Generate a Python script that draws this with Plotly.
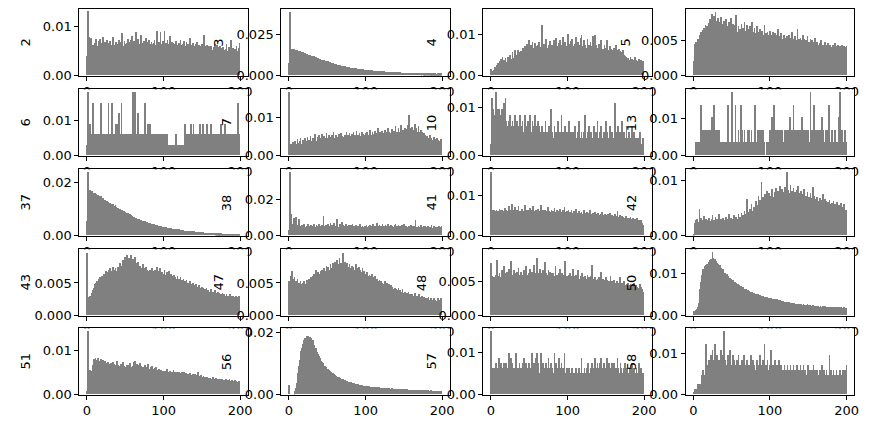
import numpy as np
import plotly.graph_objects as go

# ---------------- data (bar heights, units of 1e-4) ----------------
labels = ["2", "3", "4", "5", "6", "7", "10", "13", "37", "38",
          "41", "42", "43", "47", "48", "50", "51", "56", "57", "58"]

h2 = [40,129,45,77,45,75,15,44,62,58,66,54,73,60,50,70,63,74,58,66,
      55,78,62,68,60,50,72,65,58,63,70,55,61,58,78,62,52,60,68,57,
      64,59,72,55,68,62,85,60,58,70,63,52,66,74,59,68,61,72,57,80,
      62,70,58,66,88,60,55,73,64,58,82,61,66,57,70,63,59,76,60,68,
      56,72,63,60,68,58,64,66,71,55,62,89,60,58,67,62,88,59,64,70,
      55,89,62,66,59,72,64,58,80,61,54,68,60,66,57,63,70,56,62,59,
      66,58,72,50,61,64,55,70,60,52,68,57,63,59,75,55,62,58,66,50,
      60,56,64,52,68,58,62,55,60,50,64,57,66,82,60,54,58,62,53,59,
      48,56,60,8,52,58,47,64,55,50,62,48,57,53,60,46,55,50,58,52,
      47,54,63,50,45,58,52,48,71,50,44,56,49,53,46,60,42,50,55,66]

h3 = [75,385,165,160,162,155,158,150,154,148,152,145,150,144,146,140,143,138,141,136,
      132,135,128,130,126,124,127,120,122,118,119,115,113,116,110,108,111,104,106,100,
      98,101,95,96,92,90,93,87,88,85,83,86,80,79,81,76,74,75,71,70,
      68,69,66,64,65,62,60,61,58,57,58,55,54,55,52,51,52,49,48,49,
      47,46,47,44,43,44,42,41,42,40,39,40,38,37,38,36,35,36,34,34,
      35,33,32,33,31,30,31,30,29,30,28,27,28,27,26,27,25,25,26,24,
      24,25,23,23,24,22,22,23,21,21,22,20,20,21,19,19,20,19,18,19,
      18,18,19,17,17,18,17,16,17,16,16,17,15,15,16,15,15,14,15,14,
      15,14,14,15,13,14,14,13,14,13,13,14,13,12,13,13,12,13,12,12,
      13,12,12,13,12,11,12,12,11,12,11,12,11,11,12,11,11,12,11,13]

h4 = [15,9,8,10,12,20,14,25,18,30,22,35,28,40,24,45,30,38,26,42,
      32,28,44,36,25,48,40,33,55,42,38,60,45,50,36,62,48,55,40,58,
      52,46,65,58,70,50,62,75,55,68,85,60,72,58,80,66,52,78,64,70,
      58,74,62,80,55,68,72,122,60,76,64,70,88,58,66,74,60,82,68,56,
      72,62,85,66,58,90,70,64,78,55,86,68,72,60,92,66,58,80,70,64,
      100,62,75,68,82,58,88,70,64,76,60,92,68,55,80,72,66,90,98,62,
      70,84,60,74,66,58,88,64,72,56,80,62,70,94,60,68,98,74,58,66,
      62,76,56,70,84,60,64,52,72,58,66,85,54,62,50,70,58,64,48,60,
      56,66,50,72,54,60,46,64,52,58,44,56,62,40,50,46,36,44,30,42,
      38,28,45,34,40,26,38,32,44,30,36,24,34,40,28,32,38,26,34,30]

h5 = [20,45,44,48,46,52,50,58,55,62,60,65,58,68,64,72,66,70,62,75,
      68,80,72,88,70,76,85,74,90,68,78,82,66,76,70,84,64,74,68,78,
      62,72,80,66,70,58,76,64,82,60,68,74,58,72,64,86,62,56,70,60,
      66,58,74,62,68,54,76,60,64,72,56,66,60,70,54,64,76,58,62,68,
      56,60,70,52,62,58,66,50,60,64,54,58,72,52,60,56,62,50,58,64,
      52,58,48,62,56,50,60,46,58,54,66,50,56,48,60,52,46,58,50,54,
      48,56,52,44,58,50,46,54,62,48,52,44,56,50,46,66,48,52,44,54,
      50,44,58,46,52,42,50,48,56,42,48,46,52,40,50,44,48,38,54,44,
      42,48,36,44,46,40,50,38,44,42,36,48,40,44,38,46,42,36,44,40,
      38,44,40,36,46,38,42,34,44,40,36,42,38,44,34,40,42,38,40,42]

h6 = [30,180,60,60,90,60,60,60,150,60,60,60,30,60,60,60,60,60,150,60,
      60,60,0,60,60,30,60,60,150,60,60,60,60,150,60,60,60,90,90,90,
      60,60,120,60,60,150,60,60,30,60,60,60,0,60,60,60,30,60,60,60,
      180,180,180,180,60,60,60,120,60,60,60,60,60,30,60,60,150,60,60,90,
      60,90,60,90,60,60,30,60,60,60,60,30,60,60,60,60,60,30,60,60,
      60,60,30,60,60,0,0,30,0,30,30,30,30,30,30,30,60,30,30,30,
      30,30,30,30,30,0,30,30,90,60,60,30,60,60,30,60,90,60,30,90,
      60,60,30,60,60,30,60,90,60,60,30,90,60,30,60,60,60,90,60,30,
      60,60,90,60,30,60,60,30,60,60,30,60,60,60,60,90,60,60,30,60,
      90,60,60,30,60,60,60,30,60,60,60,30,60,60,30,60,60,150,60,60]

h7 = [164,22,25,30,22,35,28,24,38,30,26,42,32,28,36,45,30,26,40,33,
      28,44,36,30,48,34,40,32,50,38,30,46,36,42,55,38,32,48,40,52,
      36,44,38,56,42,34,50,40,46,58,38,44,52,36,48,42,54,40,60,46,
      38,52,44,48,40,56,46,42,58,50,44,10,48,54,40,62,46,52,44,58,
      50,42,56,48,60,44,52,46,64,40,54,48,58,50,44,62,48,56,52,46,
      58,50,62,46,54,48,66,52,44,60,56,50,64,48,58,52,70,46,56,60,
      50,64,54,58,48,66,52,60,56,72,50,62,58,54,68,52,60,64,56,76,
      58,62,54,70,60,56,78,64,58,66,60,72,56,68,62,80,58,104,64,70,
      60,74,56,66,82,58,70,62,54,76,60,48,66,56,62,50,58,44,54,42,
      50,40,46,38,52,36,44,40,34,48,38,42,30,44,36,40,32,38,42,36]

h10 = [24,120,72,96,84,60,132,72,96,48,96,72,60,84,96,36,72,108,60,120,
       72,60,48,72,48,84,60,48,72,36,60,84,48,60,72,12,60,48,84,48,
       60,72,48,36,84,48,60,24,72,48,60,84,36,48,72,60,24,84,48,60,
       48,72,36,60,24,48,36,60,24,48,36,72,24,48,36,24,60,36,96,36,
       48,24,36,60,24,48,36,72,24,36,48,24,84,36,48,24,36,60,24,48,
       36,24,72,24,48,36,12,48,36,24,60,36,24,48,36,72,24,36,48,24,
       36,48,24,84,36,24,48,36,60,24,36,48,24,36,60,36,24,48,36,72,
       24,36,48,24,60,36,24,48,36,24,72,36,48,24,36,60,24,36,48,36,
       24,36,108,48,24,36,60,24,48,36,24,72,36,24,48,36,24,60,36,24,
       48,24,36,24,60,36,24,48,24,36,24,12,36,24,48,24,12,24,36,12]

h13 = [0,0,0,35,35,0,35,35,0,138,35,69,0,69,35,0,69,35,69,69,
       69,0,69,104,69,69,138,69,0,69,69,35,69,69,0,35,35,0,35,35,
       0,35,35,0,138,35,0,35,35,0,173,35,0,35,138,35,0,35,69,35,
       0,138,35,69,35,0,69,35,35,0,69,35,69,0,35,69,35,0,35,69,
       138,35,0,69,69,35,69,69,0,69,69,0,35,0,0,35,0,0,35,69,
       35,69,104,35,138,0,35,69,35,0,69,35,69,0,35,69,35,35,0,69,
       69,0,35,69,35,104,69,69,35,69,138,69,69,0,69,69,35,69,69,0,
       69,104,69,35,69,0,69,69,35,69,0,35,173,35,69,0,35,138,35,69,
       35,0,69,35,69,0,35,104,35,69,0,35,69,35,0,69,138,35,0,35,
       69,35,0,35,69,35,0,35,35,104,0,173,35,69,0,35,35,69,35,0]

h37 = [55,240,168,165,170,160,166,158,162,155,160,152,156,150,153,146,150,144,147,140,
       136,140,133,135,130,128,131,125,127,121,123,118,120,115,117,112,110,113,106,104,
       101,103,98,99,95,93,96,90,91,87,88,85,83,86,80,78,79,75,74,72,
       70,71,68,66,67,63,62,63,60,58,59,56,55,56,53,52,53,50,49,48,
       48,46,47,44,43,44,42,41,41,39,38,39,37,36,36,35,34,34,33,32,
       32,31,31,30,29,29,28,28,27,26,26,25,25,24,24,23,23,22,22,21,
       22,21,20,20,19,19,19,18,18,17,17,17,16,16,16,15,15,15,14,14,
       15,14,13,13,13,12,12,12,12,11,11,11,11,10,10,10,10,9,10,9,
       9,9,8,9,8,8,8,8,7,8,7,7,7,7,6,7,6,6,6,6,
       6,6,5,6,5,5,5,5,5,5,4,5,4,4,4,4,4,4,4,3]

h38 = [28,350,205,118,62,45,95,52,40,100,48,38,58,92,44,50,36,55,48,42,
       60,45,38,52,48,65,42,50,36,58,46,54,40,62,48,44,56,38,50,64,
       46,52,40,58,44,108,50,42,56,48,38,62,46,52,70,44,58,48,40,66,
       50,44,58,92,46,40,54,62,48,72,44,56,50,38,60,46,52,40,58,48,
       42,56,48,62,40,52,44,58,38,50,46,54,42,60,48,36,52,44,24,50,
       40,56,46,38,52,44,58,40,50,46,62,42,54,48,38,66,44,52,58,42,
       50,46,62,40,54,48,58,44,52,64,42,50,46,58,40,52,48,44,56,60,
       42,50,46,58,44,52,40,56,48,44,60,42,50,54,38,48,44,52,40,56,
       46,42,54,40,50,86,44,48,38,52,46,42,56,40,48,36,52,44,50,38,
       46,54,40,48,36,44,58,42,38,50,44,40,46,36,48,42,52,40,46,50]

h41 = [159,60,62,58,64,56,60,63,55,61,58,66,54,62,57,64,52,60,68,56,
       62,55,60,74,57,63,52,78,58,62,55,70,60,56,64,52,72,58,61,54,
       66,57,60,53,75,58,62,50,64,56,60,68,54,62,57,72,52,60,56,63,
       55,66,58,52,61,76,54,59,62,50,64,57,60,53,70,56,61,52,58,64,
       53,60,56,68,51,58,62,54,60,50,66,56,58,52,63,55,71,50,57,60,
       52,62,54,58,50,64,55,52,60,48,57,66,50,56,53,60,48,55,58,51,
       54,62,49,56,52,58,47,55,50,64,48,54,51,56,46,53,58,49,52,47,
       55,50,46,53,48,58,45,51,49,54,44,50,47,52,43,56,48,45,50,44,
       47,42,52,45,48,60,43,46,50,41,45,48,40,46,43,38,47,42,44,39,
       42,38,45,40,36,43,39,41,35,40,37,42,34,38,36,33,37,30,26,22]

h42 = [2,22,28,18,30,25,20,48,24,32,18,28,22,35,26,20,30,24,28,20,
       32,26,22,30,36,24,28,20,34,26,30,22,28,38,24,30,20,26,32,24,
       28,22,34,26,30,24,38,28,32,22,30,26,36,28,24,34,30,26,38,28,
       34,30,40,28,36,32,44,30,38,66,34,42,36,48,40,56,44,38,52,46,
       50,62,54,48,72,58,64,52,96,60,70,58,66,74,62,80,56,68,76,64,
       72,66,84,70,62,78,68,86,74,64,80,70,90,76,68,84,72,78,66,88,
       74,114,70,82,76,68,92,74,80,66,86,72,78,64,82,70,90,68,76,62,
       80,66,74,60,84,68,72,58,78,64,70,56,76,62,68,88,60,72,58,66,
       56,70,62,54,68,58,64,52,74,60,56,66,50,62,54,60,48,64,56,52,
       58,50,62,46,56,52,48,60,44,54,50,46,58,42,52,48,56,44,46,46]

h43 = [95,15,22,28,30,26,34,38,32,42,48,44,50,52,46,55,50,58,54,52,
       60,56,64,58,62,68,60,66,70,62,72,64,68,66,74,70,64,72,68,66,
       74,70,66,80,72,68,76,84,70,78,90,74,92,72,82,88,76,92,80,74,
       86,72,78,90,70,80,74,82,68,76,72,70,66,78,64,72,68,74,66,70,
       68,62,70,46,66,72,64,68,60,70,62,74,66,60,68,72,62,58,66,60,
       64,70,58,62,66,56,60,68,58,48,64,56,60,54,62,58,52,56,60,50,
       56,52,58,48,54,50,56,46,52,48,54,44,50,46,52,42,48,44,50,40,
       46,42,48,40,44,38,46,42,40,36,44,38,42,34,40,36,42,34,38,32,
       36,34,40,32,36,28,34,38,30,34,32,36,30,34,28,32,30,34,28,32,
       30,28,32,30,26,30,28,32,26,30,28,30,26,28,30,24,28,26,30,26]

h47 = [52,48,60,42,68,55,46,58,44,52,48,56,42,50,46,52,44,48,50,46,
       52,48,46,54,50,48,56,52,50,58,54,60,56,64,58,70,60,62,66,58,
       64,68,62,70,66,60,72,64,68,76,66,74,70,68,78,72,66,80,74,70,
       82,70,76,84,72,78,88,76,80,74,95,78,72,82,76,70,80,74,68,78,
       72,68,76,66,74,70,64,78,68,72,66,74,64,70,62,66,72,60,68,62,
       64,58,66,60,56,62,54,60,64,56,58,52,60,54,50,56,52,48,54,50,
       52,46,50,48,44,52,46,42,50,44,40,48,42,46,38,44,40,36,42,38,
       40,36,38,42,34,38,36,32,40,34,30,36,32,28,34,30,36,28,32,30,
       28,32,26,30,34,28,26,30,24,28,32,26,28,24,30,26,28,22,26,24,
       26,22,28,24,20,26,22,24,20,26,22,24,18,22,26,20,24,22,26,24]

h48 = [77,50,58,52,56,48,60,54,82,50,58,62,56,52,66,60,54,72,58,62,
       56,64,52,68,58,62,80,56,60,54,66,58,62,52,64,56,70,60,54,64,
       60,58,52,66,62,56,72,60,54,62,58,68,56,64,60,52,74,62,58,56,
       84,62,54,60,68,56,62,52,66,58,78,56,62,60,54,66,58,64,52,62,
       56,62,58,50,72,58,60,54,62,56,68,52,58,62,54,60,56,80,52,58,
       56,60,54,62,50,58,56,68,52,58,54,60,50,56,66,52,54,58,50,62,
       52,56,50,58,54,48,60,52,56,46,58,52,74,50,54,48,56,52,46,54,
       50,56,48,52,64,48,54,46,52,50,56,44,52,48,50,46,58,44,50,48,
       46,52,44,48,50,42,48,46,56,44,40,48,46,42,50,44,40,46,42,48,
       44,40,46,38,44,42,36,48,40,44,38,42,34,40,46,36,42,38,34,28]

h50 = [10,11,12,10,14,20,30,45,62,80,96,104,110,112,118,120,114,124,122,128,
       126,132,136,130,151,138,134,128,136,130,126,118,124,112,120,108,114,104,110,96,
       102,98,92,100,88,94,86,90,82,86,80,84,76,80,74,78,72,75,70,72,
       68,70,66,64,68,62,64,60,62,58,60,57,58,55,57,53,55,52,54,50,
       52,49,51,47,50,46,48,45,47,44,46,43,45,42,44,41,43,40,42,39,
       41,38,40,37,39,36,40,35,38,34,37,33,36,32,35,32,34,31,33,30,
       32,30,31,29,33,28,30,27,29,28,27,30,26,28,25,27,26,24,27,25,
       26,24,25,27,23,25,22,24,26,23,24,22,25,21,23,24,22,20,23,21,
       22,20,23,21,19,22,20,21,23,19,20,22,18,21,20,19,21,18,20,19,
       21,18,19,20,17,19,21,18,19,17,20,18,19,16,18,17,19,16,17,15]

h51 = [8,145,55,52,56,50,54,58,66,80,74,82,70,78,84,68,76,72,80,66,
       74,78,70,76,68,72,66,74,62,70,64,72,60,68,74,62,70,58,66,76,
       62,68,58,64,70,60,66,74,58,64,62,56,66,60,68,58,72,62,60,56,
       64,74,58,76,62,70,56,66,60,72,58,64,54,62,60,56,66,58,62,54,
       70,58,54,62,56,64,52,58,60,54,62,50,56,52,58,54,50,56,48,54,
       52,46,54,50,58,48,52,46,54,50,44,52,48,56,46,50,44,52,48,46,
       50,44,48,42,52,46,44,50,42,48,46,40,46,42,48,38,44,42,46,40,
       42,46,38,44,40,50,38,42,36,44,40,38,42,36,40,38,34,40,36,38,
       34,38,36,32,40,34,36,30,38,34,32,36,30,34,32,36,30,34,28,32,
       30,34,32,28,32,30,34,28,30,32,26,30,28,32,26,30,28,26,30,28]

h56 = [30,0,0,0,0,0,0,4,10,20,35,50,70,90,110,125,140,150,162,170,
       175,180,178,186,184,188,182,185,178,180,172,175,165,160,150,148,140,135,128,122,
       118,112,108,104,100,96,92,90,87,84,82,80,77,75,73,71,69,67,65,64,
       62,60,59,57,56,54,53,52,50,49,48,47,46,45,44,43,42,41,40,39,
       38,38,37,36,35,35,34,34,33,32,32,31,31,30,30,29,29,28,28,27,
       27,27,26,26,25,26,25,24,25,24,23,24,23,22,23,22,22,21,22,21,
       21,21,20,21,20,20,19,20,19,19,18,19,18,18,19,17,18,18,17,17,
       17,16,17,17,16,16,17,15,16,16,15,16,15,15,16,14,15,15,14,15,
       14,15,14,14,15,13,14,14,13,14,13,14,13,13,14,12,13,13,12,13,
       13,12,13,12,12,13,12,11,12,12,11,12,11,12,11,11,12,11,11,12]

h57 = [152,62,50,38,62,25,75,50,62,38,88,50,62,75,38,62,50,75,62,50,
       75,38,62,100,50,62,88,38,75,50,62,25,75,100,50,62,38,75,62,50,
       62,75,38,88,50,62,75,25,62,50,75,62,38,100,62,50,75,38,62,88,
       100,62,75,38,50,100,62,38,75,50,62,25,75,62,50,88,38,62,75,50,
       62,38,50,100,62,75,38,62,50,88,62,38,75,50,62,25,100,50,38,62,
       50,38,62,25,50,38,62,50,38,25,50,62,38,50,25,62,38,50,88,38,
       50,38,62,25,50,62,38,75,50,38,62,50,75,38,62,50,88,62,38,75,
       62,50,75,38,88,62,50,75,38,62,50,88,62,50,75,38,62,50,75,62,
       50,75,38,62,50,88,62,38,50,75,62,50,38,62,50,75,38,50,62,38,
       50,62,38,50,75,38,50,62,38,50,62,38,50,75,38,50,62,38,50,25]

h58 = [6,12,12,6,12,24,24,24,12,24,48,36,60,48,36,98,123,60,72,48,
       84,60,96,72,108,48,84,123,60,72,96,48,72,84,60,108,48,96,72,154,
       60,84,72,48,96,60,84,108,60,72,48,96,84,60,72,48,84,60,96,72,
       48,72,60,84,48,96,60,72,48,84,60,48,72,60,96,48,60,84,48,72,
       60,48,84,60,72,48,96,60,48,72,84,60,123,48,72,60,84,48,60,72,
       108,60,48,72,60,48,84,60,72,48,60,84,48,60,72,48,60,48,72,60,
       48,60,72,48,60,48,72,60,48,60,72,48,60,36,72,48,60,48,60,72,
       48,60,36,72,48,60,48,36,60,72,48,60,48,36,60,48,72,48,60,36,
       48,60,36,48,60,36,48,72,48,36,60,48,36,60,48,36,48,96,48,60,
       36,48,60,36,48,36,60,48,36,48,0,60,36,48,60,36,48,60,36,72]

heights = [h2, h3, h4, h5, h6, h7, h10, h13, h37, h38,
           h41, h42, h43, h47, h48, h50, h51, h56, h57, h58]

# y tick labels per panel
ytick_vals = [[0, 0.01], [0, 0.025], [0, 0.01], [0, 0.005],
              [0, 0.01], [0, 0.01], [0, 0.01], [0, 0.01],
              [0, 0.02], [0, 0.02], [0, 0.01], [0, 0.01],
              [0, 0.005], [0, 0.005], [0, 0.005], [0, 0.01],
              [0, 0.01], [0, 0.02], [0, 0.01], [0, 0.01]]
ytick_text = [["0.00", "0.01"], ["0.000", "0.025"], ["0.00", "0.01"], ["0.000", "0.005"],
              ["0.00", "0.01"], ["0.00", "0.01"], ["0.00", "0.01"], ["0.00", "0.01"],
              ["0.00", "0.02"], ["0.00", "0.02"], ["0.00", "0.01"], ["0.00", "0.01"],
              ["0.000", "0.005"], ["0.000", "0.005"], ["0.000", "0.005"], ["0.00", "0.01"],
              ["0.00", "0.01"], ["0.00", "0.02"], ["0.00", "0.01"], ["0.00", "0.01"]]
xtick_vals = [0, 100, 200]
xtick_text = ["0", "100", "200"]

# ---------------- layout (pixels) ----------------
W, H = 869, 428
y_top = [0.0134, 0.0405, 0.01595, 0.00948,
         0.01894, 0.01728, 0.01378, 0.01807,
         0.0251, 0.0368, 0.01655, 0.01201,
         0.01015, 0.01015, 0.00975, 0.01589,
         0.01515, 0.0213, 0.01589, 0.01615]
label_x = [25, 218.3, 431, 625,
           25, 226.7, 431.7, 631.7,
           25, 226.7, 431, 631.7,
           25, 218, 421.7, 631.7,
           25, 226.7, 431, 631.7]
col_left = [79.3, 281.3, 483.3, 685.7]
AX_W = 168.5
row_top = [9.3, 89.3, 169.3, 249.3, 328.3]
AX_H = 66.3

FONT = dict(family="DejaVu Sans", size=13, color="black")

fig = go.Figure()
layout = dict(width=W, height=H, margin=dict(l=0, r=0, t=0, b=0, autoexpand=False),
              paper_bgcolor="white", plot_bgcolor="white",
              bargap=0, showlegend=False, font=FONT)
shapes = []
annotations = []

for i, (lab, hv) in enumerate(zip(labels, heights)):
    r, c = divmod(i, 4)
    k = i + 1
    xa = "x" if k == 1 else f"x{k}"
    ya = "y" if k == 1 else f"y{k}"
    vals = np.array(hv, dtype=float) * 1e-4
    fig.add_trace(go.Bar(
        x=np.arange(len(vals)) + 0.5, y=vals, width=1.0,
        marker=dict(color="#808080", line=dict(width=0)),
        xaxis=xa, yaxis=ya, hoverinfo="skip"))
    left = col_left[c]
    top = row_top[r]
    common = dict(showline=True, mirror=True, linecolor="black", linewidth=1,
                  ticks="outside", ticklen=4, tickwidth=1, tickcolor="black",
                  showgrid=False, zeroline=False, tickfont=FONT, fixedrange=True,
                  automargin=False)
    layout["xaxis" if k == 1 else f"xaxis{k}"] = dict(
        domain=[left / W, (left + AX_W) / W], anchor=ya, range=[-10, 210],
        tickmode="array", tickvals=xtick_vals, ticktext=xtick_text, **common)
    layout["yaxis" if k == 1 else f"yaxis{k}"] = dict(
        domain=[1 - (top + AX_H) / H, 1 - top / H], anchor=xa, range=[0, y_top[i]],
        tickmode="array", tickvals=ytick_vals[i], ticktext=ytick_text[i], **common)
    # white axes background drawn inside this subplot's own layer
    shapes.append(dict(type="rect", xref=xa, yref=ya, x0=-10, x1=210, y0=0, y1=y_top[i],
                       fillcolor="white", line=dict(width=0), layer="below"))
    annotations.append(dict(text=lab, x=label_x[i] / W, y=1 - (top + AX_H / 2) / H,
                            xref="paper", yref="paper", xanchor="center", yanchor="middle",
                            textangle=-90, showarrow=False, font=FONT))

layout["shapes"] = shapes
layout["annotations"] = annotations
fig.update_layout(**layout)
fig.write_html("out.html")
